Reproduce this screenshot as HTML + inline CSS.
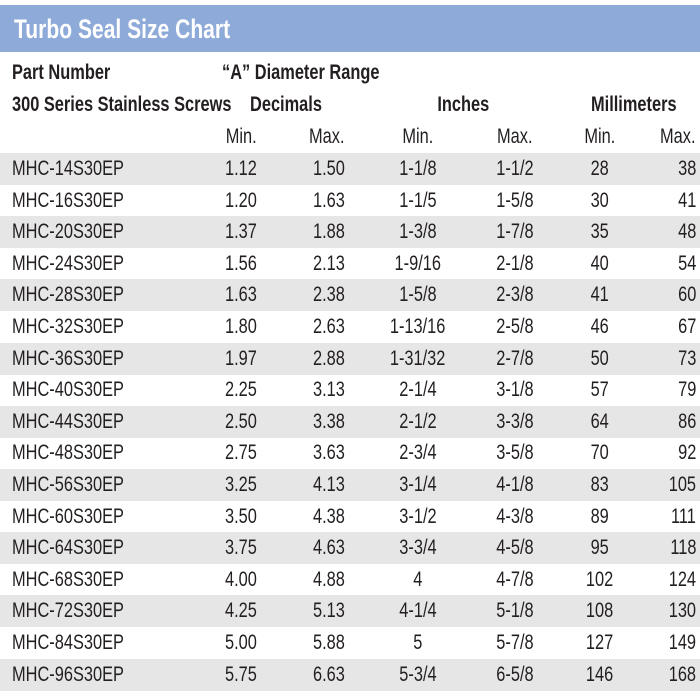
<!DOCTYPE html>
<html><head><style>
body{margin:0;width:700px;height:700px;background:#fff;position:relative;overflow:hidden;font-family:"Liberation Sans Narrow","Liberation Sans",sans-serif;color:#231f20}
.bar{position:absolute;left:0;top:5px;width:700px;height:47px;background:#8eaad9}
.t{position:absolute;white-space:nowrap;font-size:21px;line-height:24px}
.b{font-weight:bold}
.row{position:absolute;left:0;width:700px;height:32px}
.g{background:#e6e6e6}
.c{position:absolute;top:4px;font-size:21px;line-height:24px;white-space:nowrap}
.sx{display:inline-block;transform:scaleX(.78);}
.l .sx{transform-origin:left}
.r .sx{transform-origin:right}
.m .sx{transform-origin:center}
.c1{left:12px}
.c2{right:443px;text-align:right}
.c3{right:355px;text-align:right}
.c4{left:368px;width:100px;text-align:center}
.c5{left:465px;width:100px;text-align:center}
.c6{left:560px;width:80px;text-align:center}
.c7{right:4px;text-align:right}
</style></head><body>
<div class="bar"></div>
<div class="t b l" style="left:14px;top:14px;font-size:27px;color:#fff;line-height:30px"><span class="sx" style="transform:scaleX(.78);transform-origin:left">Turbo Seal Size Chart</span></div>
<div class="t b l" style="left:12px;top:61px"><span class="sx">Part Number</span></div>
<div class="t b l" style="left:222px;top:61px"><span class="sx">“A” Diameter Range</span></div>
<div class="t b l" style="left:12px;top:93px"><span class="sx">300 Series Stainless Screws</span></div>
<div class="t b l" style="left:250px;top:93px"><span class="sx">Decimals</span></div>
<div class="t b m" style="left:413px;width:100px;text-align:center;top:93px"><span class="sx">Inches</span></div>
<div class="t b l" style="left:591px;top:93px"><span class="sx">Millimeters</span></div>

<div class="row" style="top:121px"><div class="c r c2"><span class="sx">Min.</span></div><div class="c r c3"><span class="sx">Max.</span></div><div class="c m c4"><span class="sx">Min.</span></div><div class="c m c5"><span class="sx">Max.</span></div><div class="c m c6"><span class="sx">Min.</span></div><div class="c r c7"><span class="sx">Max.</span></div></div>

<div class="row g" style="top:153px"><div class="c l c1"><span class="sx">MHC-14S30EP</span></div><div class="c r c2"><span class="sx">1.12</span></div><div class="c r c3"><span class="sx">1.50</span></div><div class="c m c4"><span class="sx">1-1/8</span></div><div class="c m c5"><span class="sx">1-1/2</span></div><div class="c m c6"><span class="sx">28</span></div><div class="c r c7"><span class="sx">38</span></div></div>
<div class="row" style="top:184.6px"><div class="c l c1"><span class="sx">MHC-16S30EP</span></div><div class="c r c2"><span class="sx">1.20</span></div><div class="c r c3"><span class="sx">1.63</span></div><div class="c m c4"><span class="sx">1-1/5</span></div><div class="c m c5"><span class="sx">1-5/8</span></div><div class="c m c6"><span class="sx">30</span></div><div class="c r c7"><span class="sx">41</span></div></div>
<div class="row g" style="top:216.2px"><div class="c l c1"><span class="sx">MHC-20S30EP</span></div><div class="c r c2"><span class="sx">1.37</span></div><div class="c r c3"><span class="sx">1.88</span></div><div class="c m c4"><span class="sx">1-3/8</span></div><div class="c m c5"><span class="sx">1-7/8</span></div><div class="c m c6"><span class="sx">35</span></div><div class="c r c7"><span class="sx">48</span></div></div>
<div class="row" style="top:247.8px"><div class="c l c1"><span class="sx">MHC-24S30EP</span></div><div class="c r c2"><span class="sx">1.56</span></div><div class="c r c3"><span class="sx">2.13</span></div><div class="c m c4"><span class="sx">1-9/16</span></div><div class="c m c5"><span class="sx">2-1/8</span></div><div class="c m c6"><span class="sx">40</span></div><div class="c r c7"><span class="sx">54</span></div></div>
<div class="row g" style="top:279.4px"><div class="c l c1"><span class="sx">MHC-28S30EP</span></div><div class="c r c2"><span class="sx">1.63</span></div><div class="c r c3"><span class="sx">2.38</span></div><div class="c m c4"><span class="sx">1-5/8</span></div><div class="c m c5"><span class="sx">2-3/8</span></div><div class="c m c6"><span class="sx">41</span></div><div class="c r c7"><span class="sx">60</span></div></div>
<div class="row" style="top:311px"><div class="c l c1"><span class="sx">MHC-32S30EP</span></div><div class="c r c2"><span class="sx">1.80</span></div><div class="c r c3"><span class="sx">2.63</span></div><div class="c m c4"><span class="sx">1-13/16</span></div><div class="c m c5"><span class="sx">2-5/8</span></div><div class="c m c6"><span class="sx">46</span></div><div class="c r c7"><span class="sx">67</span></div></div>
<div class="row g" style="top:342.6px"><div class="c l c1"><span class="sx">MHC-36S30EP</span></div><div class="c r c2"><span class="sx">1.97</span></div><div class="c r c3"><span class="sx">2.88</span></div><div class="c m c4"><span class="sx">1-31/32</span></div><div class="c m c5"><span class="sx">2-7/8</span></div><div class="c m c6"><span class="sx">50</span></div><div class="c r c7"><span class="sx">73</span></div></div>
<div class="row" style="top:374.2px"><div class="c l c1"><span class="sx">MHC-40S30EP</span></div><div class="c r c2"><span class="sx">2.25</span></div><div class="c r c3"><span class="sx">3.13</span></div><div class="c m c4"><span class="sx">2-1/4</span></div><div class="c m c5"><span class="sx">3-1/8</span></div><div class="c m c6"><span class="sx">57</span></div><div class="c r c7"><span class="sx">79</span></div></div>
<div class="row g" style="top:405.8px"><div class="c l c1"><span class="sx">MHC-44S30EP</span></div><div class="c r c2"><span class="sx">2.50</span></div><div class="c r c3"><span class="sx">3.38</span></div><div class="c m c4"><span class="sx">2-1/2</span></div><div class="c m c5"><span class="sx">3-3/8</span></div><div class="c m c6"><span class="sx">64</span></div><div class="c r c7"><span class="sx">86</span></div></div>
<div class="row" style="top:437.4px"><div class="c l c1"><span class="sx">MHC-48S30EP</span></div><div class="c r c2"><span class="sx">2.75</span></div><div class="c r c3"><span class="sx">3.63</span></div><div class="c m c4"><span class="sx">2-3/4</span></div><div class="c m c5"><span class="sx">3-5/8</span></div><div class="c m c6"><span class="sx">70</span></div><div class="c r c7"><span class="sx">92</span></div></div>
<div class="row g" style="top:469px"><div class="c l c1"><span class="sx">MHC-56S30EP</span></div><div class="c r c2"><span class="sx">3.25</span></div><div class="c r c3"><span class="sx">4.13</span></div><div class="c m c4"><span class="sx">3-1/4</span></div><div class="c m c5"><span class="sx">4-1/8</span></div><div class="c m c6"><span class="sx">83</span></div><div class="c r c7"><span class="sx">105</span></div></div>
<div class="row" style="top:500.6px"><div class="c l c1"><span class="sx">MHC-60S30EP</span></div><div class="c r c2"><span class="sx">3.50</span></div><div class="c r c3"><span class="sx">4.38</span></div><div class="c m c4"><span class="sx">3-1/2</span></div><div class="c m c5"><span class="sx">4-3/8</span></div><div class="c m c6"><span class="sx">89</span></div><div class="c r c7"><span class="sx">111</span></div></div>
<div class="row g" style="top:532.2px"><div class="c l c1"><span class="sx">MHC-64S30EP</span></div><div class="c r c2"><span class="sx">3.75</span></div><div class="c r c3"><span class="sx">4.63</span></div><div class="c m c4"><span class="sx">3-3/4</span></div><div class="c m c5"><span class="sx">4-5/8</span></div><div class="c m c6"><span class="sx">95</span></div><div class="c r c7"><span class="sx">118</span></div></div>
<div class="row" style="top:563.8px"><div class="c l c1"><span class="sx">MHC-68S30EP</span></div><div class="c r c2"><span class="sx">4.00</span></div><div class="c r c3"><span class="sx">4.88</span></div><div class="c m c4"><span class="sx">4</span></div><div class="c m c5"><span class="sx">4-7/8</span></div><div class="c m c6"><span class="sx">102</span></div><div class="c r c7"><span class="sx">124</span></div></div>
<div class="row g" style="top:595.4px"><div class="c l c1"><span class="sx">MHC-72S30EP</span></div><div class="c r c2"><span class="sx">4.25</span></div><div class="c r c3"><span class="sx">5.13</span></div><div class="c m c4"><span class="sx">4-1/4</span></div><div class="c m c5"><span class="sx">5-1/8</span></div><div class="c m c6"><span class="sx">108</span></div><div class="c r c7"><span class="sx">130</span></div></div>
<div class="row" style="top:627px"><div class="c l c1"><span class="sx">MHC-84S30EP</span></div><div class="c r c2"><span class="sx">5.00</span></div><div class="c r c3"><span class="sx">5.88</span></div><div class="c m c4"><span class="sx">5</span></div><div class="c m c5"><span class="sx">5-7/8</span></div><div class="c m c6"><span class="sx">127</span></div><div class="c r c7"><span class="sx">149</span></div></div>
<div class="row g" style="top:658.6px"><div class="c l c1"><span class="sx">MHC-96S30EP</span></div><div class="c r c2"><span class="sx">5.75</span></div><div class="c r c3"><span class="sx">6.63</span></div><div class="c m c4"><span class="sx">5-3/4</span></div><div class="c m c5"><span class="sx">6-5/8</span></div><div class="c m c6"><span class="sx">146</span></div><div class="c r c7"><span class="sx">168</span></div></div>
</body></html>
